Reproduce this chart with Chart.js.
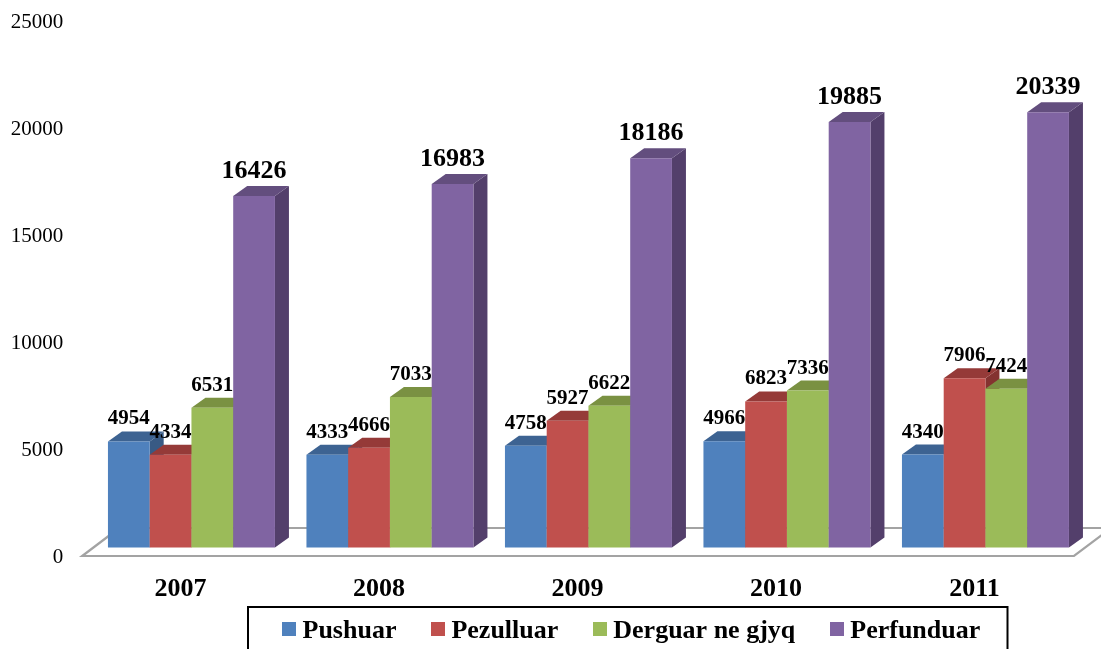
<!DOCTYPE html>
<html>
<head>
<meta charset="utf-8">
<style>html,body{margin:0;padding:0;background:#fff;overflow:hidden}canvas{display:block}</style>
<script src="https://cdn.jsdelivr.net/npm/chart.js@4"></script>
</head>
<body>
<canvas id="c" width="1101" height="649"></canvas>
<script>
const categories = ['2007','2008','2009','2010','2011'];
const pushuar = [4954,4333,4758,4966,4340];
const pezulluar = [4334,4666,5927,6823,7906];
const derguar = [6531,7033,6622,7336,7424];
const perfunduar = [16426,16983,18186,19885,20339];
const seriesNames = ['Pushuar','Pezulluar','Derguar ne gjyq','Perfunduar'];
const frontColors = ['#4F81BD','#C0504D','#9BBB59','#8064A2'];
const topColors = ['#3D6392','#953A38','#7A9142','#634E7E'];
const sideColors = ['#385A84','#843230','#6C8239','#533F6B'];
const FONT = "'Liberation Serif'";
const DX = 14, DY = -10;

function square(color){
  const k = document.createElement('canvas');
  k.width = 14; k.height = 18;
  const g = k.getContext('2d');
  g.fillStyle = color; g.fillRect(0,0,14,14);
  return k;
}
function poly(ctx, pts, color){
  ctx.fillStyle = color;
  ctx.beginPath();
  pts.forEach((p,i)=> i ? ctx.lineTo(p[0],p[1]) : ctx.moveTo(p[0],p[1]));
  ctx.closePath();
  ctx.fill();
}
const bars3d = {
  id:'bars3d',
  afterLayout(chart){
    chart.legend.left = 247.5;
    chart.legend.top = 577;
  },
  beforeDatasetsDraw(chart){
    const {ctx, chartArea:a, scales:{y}} = chart;
    const y0 = y.getPixelForValue(0);
    const fy = y0 + 8.5, by = y0 - 19.5;
    const fl = a.left - 10, fr = a.right - 10.7;
    ctx.save();
    ctx.strokeStyle = '#A3A3A3';
    ctx.lineWidth = 2.2;
    ctx.beginPath();
    ctx.moveTo(fl + 37, by); ctx.lineTo(fl, fy); ctx.lineTo(fr, fy); ctx.lineTo(fr + 37, by); ctx.lineTo(fl + 37, by);
    ctx.stroke();
    ctx.restore();
  },
  beforeDatasetDraw(){
    return false;
  },
  afterDatasetsDraw(chart){
    const {ctx} = chart;
    ctx.save();
    chart.data.datasets.forEach((ds,i)=>{
      chart.getDatasetMeta(i).data.forEach(b=>{
        const l = b.x - b.width/2, r = b.x + b.width/2;
        poly(ctx, [[r,b.y],[r+DX,b.y+DY],[r+DX,b.base+DY],[r,b.base]], sideColors[i]);
        poly(ctx, [[l,b.y],[l+DX,b.y+DY],[r+DX,b.y+DY],[r,b.y]], topColors[i]);
        b.draw(ctx);
      });
    });
    ctx.fillStyle = '#000';
    ctx.textAlign = 'center';
    ctx.textBaseline = 'alphabetic';
    chart.data.datasets.forEach((ds,i)=>{
      const big = i === 3;
      ctx.font = 'bold ' + (big ? 26 : 21) + 'px ' + FONT;
      chart.getDatasetMeta(i).data.forEach((b,j)=>{
        ctx.fillText(String(ds.data[j]), b.x, b.y - (big ? 18 : 17));
      });
    });
    ctx.restore();
  },
  afterDraw(chart){
    const {ctx} = chart;
    ctx.save();
    ctx.strokeStyle = '#000';
    ctx.lineWidth = 2;
    ctx.strokeRect(248, 607, 759.5, 60);
    ctx.restore();
  }
};
const seriesData = [pushuar,pezulluar,derguar,perfunduar];
new Chart(document.getElementById('c'),{
  type:'bar',
  data:{
    labels:categories,
    datasets:seriesNames.map((n,i)=>({
      label:n,
      data:seriesData[i],
      backgroundColor:frontColors[i],
      categoryPercentage:0.8413,
      barPercentage:1
    }))
  },
  options:{
    responsive:false,
    animation:false,
    layout:{padding:{top:12.5,right:16.3,left:0,bottom:-31.5}},
    scales:{
      x:{
        grid:{display:false,drawTicks:false},
        border:{display:false},
        ticks:{color:'#000',font:{family:FONT,size:26,weight:'bold'},labelOffset:-11,padding:26,maxRotation:0},
        afterFit(s){s.height = 56;}
      },
      y:{
        min:0,max:25000,
        grid:{display:false,drawTicks:false},
        border:{display:false},
        ticks:{stepSize:5000,color:'#000',font:{family:FONT,size:21},labelOffset:10,padding:29,callback:v=>String(v)},
        afterFit(s){s.width = 92.2; s.paddingTop = 0; s.paddingBottom = 0;}
      }
    },
    plugins:{
      tooltip:{enabled:false},
      title:{display:false},
      legend:{
        display:true,
        position:'bottom',
        align:'start',
        labels:{
          color:'#000',
          font:{family:FONT,size:26,weight:'bold'},
          usePointStyle:true,
          boxWidth:1,
          pointStyleWidth:1,
          padding:41,
          generateLabels(chart){
            return Chart.defaults.plugins.legend.labels.generateLabels(chart).map((it,i)=>{
              it.pointStyle = square(frontColors[i]);
              return it;
            });
          }
        }
      }
    }
  },
  plugins:[bars3d]
});
</script>
</body>
</html>
